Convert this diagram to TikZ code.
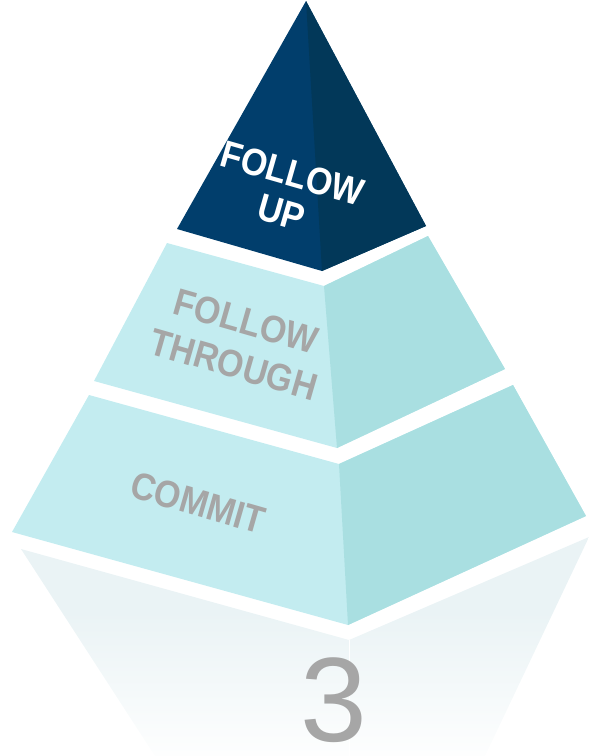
\documentclass[tikz,border=0pt]{standalone}
\usepackage{fontspec}
\setmainfont{Liberation Sans}
\definecolor{navyL}{HTML}{013E6C}
\definecolor{navyR}{HTML}{023859}
\definecolor{lightL}{HTML}{C3ECF0}
\definecolor{lightR}{HTML}{A9DFE1}
\definecolor{txtgray}{HTML}{A6A6A6}
\definecolor{reflc}{HTML}{EAF3F5}
\pgfdeclareverticalshading{reflshade}{100bp}{color(0bp)=(white); color(22bp)=(white); color(58bp)=(reflc); color(100bp)=(reflc)}
\begin{document}
\begin{tikzpicture}[x=1pt,y=-1pt,
  tierlabel/.style={font=\bfseries\fontsize{34}{36}\selectfont, align=center, rotate=-16, yscale=1.12, inner sep=0pt},
  darklabel/.style={tierlabel, text=white},
  greylabel/.style={tierlabel, text=txtgray}]
\useasboundingbox (0,0) rectangle (589,756);
% reflection
\shade[shading=reflshade] (21,549) -- (349,640) -- (589,537) -- (485,756) -- (155,756) -- cycle;
\draw[white, line width=0.8pt] (349,640) -- (349,756);
% bottom tier (left colour under the whole tier, right face on top)
\fill[lightL] (89,395) -- (339,464) -- (513,385) -- (586,516) -- (348,625) -- (12,532) -- cycle;
\fill[lightR] (339,464) -- (513,385) -- (586,516) -- (348,625) -- cycle;
% middle tier
\fill[lightL] (167,243) -- (324,286) -- (428,236) -- (505,369) -- (337,448) -- (94,381) -- cycle;
\fill[lightR] (324,286) -- (428,236) -- (505,369) -- (337,448) -- cycle;
% top tier
\fill[navyL] (306,1) -- (426,226) -- (322,271) -- (177,229) -- cycle;
\fill[navyR] (306,1) -- (426,226) -- (322,271) -- cycle;
% labels
\node[darklabel] (followup) at (287,193) {FOLLOW\\UP};
\node[greylabel, font=\bfseries\fontsize{34}{40}\selectfont] (through) at (240,343) {FOLLOW\\THROUGH};
\node[greylabel] (commit) at (198,503) {COMMIT};
\node[font=\fontsize{120}{120}\selectfont, text=txtgray, inner sep=0pt] (three) at (334,700) {3};
\end{tikzpicture}
\end{document}
